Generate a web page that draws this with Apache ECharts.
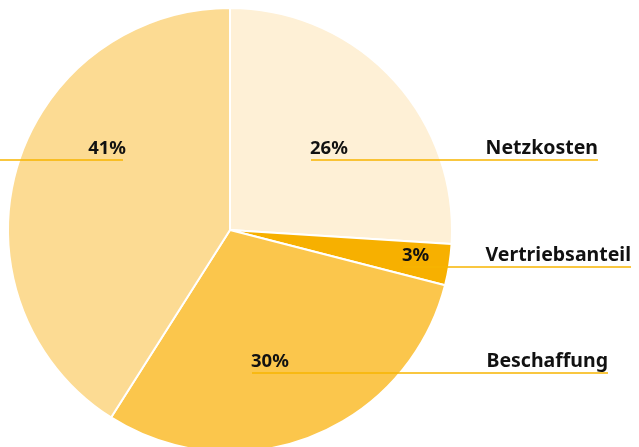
<!DOCTYPE html>
<html><head><meta charset="utf-8">
<script src="https://cdn.jsdelivr.net/npm/echarts@6/dist/echarts.min.js"></script>
<style>html,body{margin:0;padding:0;background:#fff}#c{width:639px;height:447px}</style>
</head><body><div id="c"></div>
<script>
// Data
var categories = ['Netzkosten', 'Vertriebsanteil', 'Beschaffung', 'Steuern und Abgaben'];
var values = [26, 3, 30, 41];
var showName = [true, true, true, false];

// Styles / layout (not data)
var colors = ['#FEF0D6', '#F7B000', '#FBC64C', '#FCDB93'];
var lineColor = '#F7B500';
// label line: y, inner x (percent side), outer x (name side)
var labelGuides = [
  {y: 160, inner: 311, outer: 598},
  {y: 267, inner: 403, outer: 631},
  {y: 373, inner: 252, outer: 608},
  {y: 160, inner: 123, outer: -10}
];
var font = '"Noto Sans", "Open Sans", sans-serif';

var chart = echarts.init(document.getElementById('c'), null, {renderer: 'canvas'});
var pieData = categories.map(function (n, i) {
  return {name: n, value: values[i], itemStyle: {color: colors[i]}};
});
var nameData = categories.map(function (n, i) {
  return {name: n, value: values[i], label: {formatter: showName[i] ? '{b}' : ''}};
});
chart.setOption({
  animation: false,
  series: [
    {
      type: 'pie',
      z: 2,
      center: [230, 230],
      radius: [0, 222],
      startAngle: 90,
      clockwise: true,
      data: pieData,
      itemStyle: {borderColor: '#fff', borderWidth: 2},
      label: {
        show: true,
        position: 'outside',
        formatter: '{c}%',
        overflow: 'none',
        color: '#111',
        fontFamily: font,
        fontWeight: 'bold',
        fontSize: 18.5
      },
      labelLine: {show: false},
      labelLayout: function (p) {
        var g = labelGuides[p.dataIndex];
        var left = g.outer > g.inner;
        return {
          x: left ? g.inner - 1 : g.inner + 3,
          y: g.y - 2,
          align: left ? 'left' : 'right',
          verticalAlign: 'bottom'
        };
      },
      emphasis: {disabled: true}
    },
    {
      type: 'pie',
      z: 5,
      center: [230, 230],
      radius: [0, 222],
      startAngle: 90,
      clockwise: true,
      silent: true,
      data: nameData,
      itemStyle: {color: 'rgba(0,0,0,0)'},
      label: {
        show: true,
        position: 'outside',
        overflow: 'none',
        color: '#111',
        fontFamily: font,
        fontWeight: 'bold',
        fontSize: 19.5
      },
      labelLine: {show: true, lineStyle: {color: lineColor, width: 1.3}},
      labelLayout: function (p) {
        var g = labelGuides[p.dataIndex];
        return {
          x: g.outer, y: g.y - 2, align: 'right', verticalAlign: 'bottom',
          labelLinePoints: [[g.inner, g.y], [(g.inner + g.outer) / 2, g.y], [g.outer, g.y]]
        };
      },
      emphasis: {disabled: true}
    }
  ]
});
</script></body></html>
